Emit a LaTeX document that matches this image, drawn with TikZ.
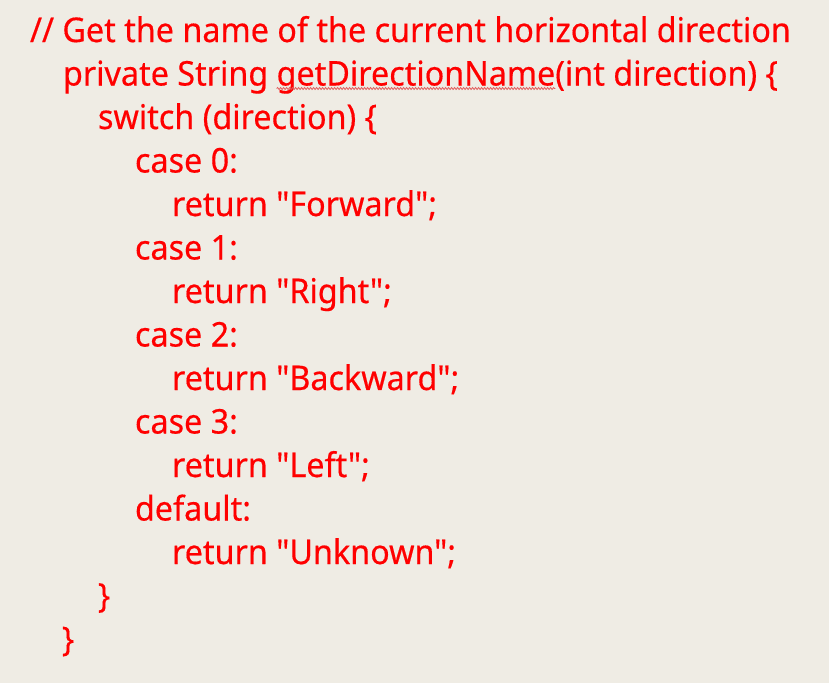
\documentclass[tikz,border=0pt]{standalone}
\usepackage{fontspec}
\setmainfont{Noto Sans}[Ligatures=TeXOff,FakeStretch=0.95,FakeBold=0.4]
\usetikzlibrary{decorations.pathmorphing}
\definecolor{bg}{RGB}{239,236,228}
\definecolor{codered}{RGB}{255,0,0}
\definecolor{squig}{RGB}{226,90,90}
\begin{document}
\begin{tikzpicture}[x=1pt,y=-1pt,
  codeline/.style={anchor=base west,inner sep=0pt,outer sep=0pt,text=codered,font=\fontsize{34}{40}\selectfont},
  spell/.style={draw=squig,line width=0.8pt,decorate,decoration={snake,amplitude=1pt,segment length=3pt}}]
\fill[bg] (0,0) rectangle (829,683);
\useasboundingbox (0,0) rectangle (829,683);
\node[codeline] (l1) at (30,42) {// Get the name of the current horizontal direction};
\node[codeline] (l2a) at (63,85.5) {private String~\hbox{}};
\node[codeline] (gdn) at (l2a.base east) {getDirectionName};
\node[codeline] (l2c) at (gdn.base east) {(int direction) \{};
\node[codeline] (l3) at (98,129) {switch (direction) \{};
\node[codeline] (l4) at (135,172.5) {case 0:};
\node[codeline] (l5) at (172,216) {return "Forward";};
\node[codeline] (l6) at (135,259.5) {case 1:};
\node[codeline] (l7) at (172,303) {return "Right";};
\node[codeline] (l8) at (135,346.5) {case 2:};
\node[codeline] (l9) at (172,390) {return "Backward";};
\node[codeline] (l10) at (135,433.5) {case 3:};
\node[codeline] (l11) at (172,477) {return "Left";};
\node[codeline] (l12) at (135,520.5) {default:};
\node[codeline] (l13) at (172,564) {return "Unknown";};
\node[codeline] (l14) at (98,607.5) {\}};
\node[codeline] (l15) at (62,651) {\}};
\draw[spell] ([yshift=-3pt]gdn.base west) -- ([yshift=-3pt]gdn.base east);
\end{tikzpicture}
\end{document}
